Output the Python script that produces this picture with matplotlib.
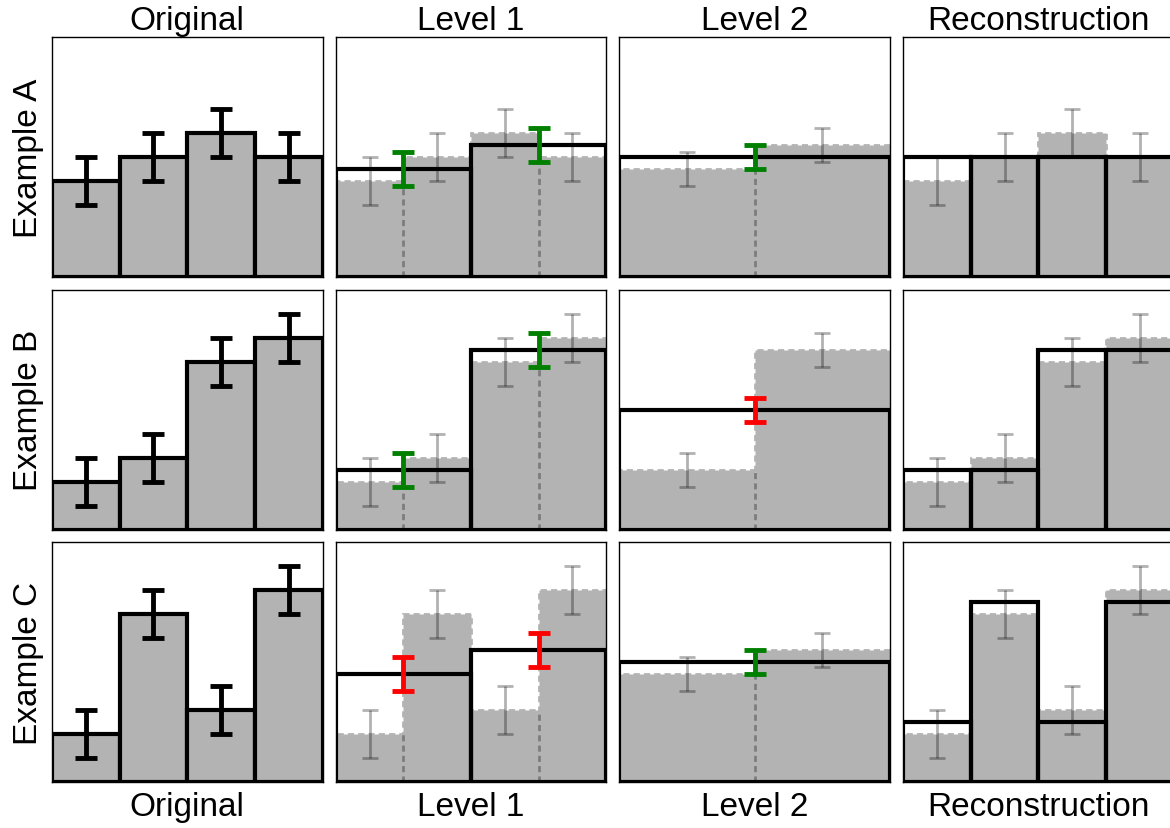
import matplotlib
matplotlib.use("Agg")
from matplotlib import pyplot as plt

plt.rcParams['font.family'] = ['Liberation Sans', 'DejaVu Sans']

# row / column names
examples = ["Example A", "Example B", "Example C"]
columns = ["Original", "Level 1", "Level 2", "Reconstruction"]

# values
original = [[4, 5, 6, 5], [2, 3, 7, 8], [2, 7, 3, 8]]
level1 = [[4.5, 5.5], [2.5, 7.5], [4.5, 5.5]]
level2 = [5, 5, 5]
recon = [[5, 5, 5, 5], [2.5, 2.5, 7.5, 7.5], [2.5, 7.5, 2.5, 7.5]]

err_orig = 1.0
err_l1 = 0.71
err_l2 = 0.5

l1_colors = [["green", "green"], ["green", "green"], ["red", "red"]]
l2_colors = ["green", "red", "green"]

x4 = [0.5, 1.5, 2.5, 3.5]
x2 = [1, 3]
x1 = [2]

FADE = (0, 0, 0, 0.3)
DASH = (0, (2.2, 1.5))


def faded(ax, x, vals, width, err):
    # opaque grey bars, the shared edges drawn a bit darker
    ax.bar(x, vals, width=width, color='#b3b3b3', edgecolor='#b3b3b3',
           linestyle=DASH, linewidth=2, zorder=1)
    bx = [x[i] + width / 2 for i in range(len(x) - 1)]
    bh = [min(vals[i], vals[i + 1]) for i in range(len(x) - 1)]
    ax.vlines(bx, 0, bh, colors='#7d7d7d', linestyles=DASH, linewidth=2, zorder=1.5)
    ax.errorbar(x, vals, yerr=err, fmt='none', ecolor=FADE, elinewidth=2,
                capsize=6, capthick=2, zorder=2)


def outline(ax, x, vals, width):
    ax.bar(x, vals, width=width, color='none', edgecolor='k', linewidth=3, zorder=3)


def signif(ax, x, vals, err, colors):
    for xi, v, c in zip(x, vals, colors):
        ax.errorbar([xi], [v], yerr=err, fmt='none', ecolor=c, elinewidth=3.5,
                    capsize=8, capthick=3.5, zorder=4)


fig = plt.figure(figsize=(11.7, 8.29), dpi=100)
W, H = 1170.0, 829.0
lefts = [52, 335.7, 619.4, 903.1]
tops = [38, 290.7, 543.3]
pw, ph = 270.5, 240

for r in range(3):
    for c in range(4):
        ax = fig.add_axes([lefts[c] / W, 1 - (tops[r] + ph) / H, pw / W, ph / H])
        if c == 0:
            ax.bar(x4, original[r], width=1, color='#b3b3b3', edgecolor='k',
                   linewidth=3, zorder=1)
            ax.errorbar(x4, original[r], yerr=err_orig, fmt='none', ecolor='k',
                        elinewidth=3.5, capsize=8, capthick=3.5, zorder=4)
        elif c == 1:
            faded(ax, x4, original[r], 1, err_orig)
            outline(ax, x2, level1[r], 2)
            signif(ax, x2, level1[r], err_l1, l1_colors[r])
        elif c == 2:
            faded(ax, x2, level1[r], 2, err_l1)
            outline(ax, x1, [level2[r]], 4)
            signif(ax, x1, [level2[r]], err_l2, [l2_colors[r]])
        else:
            faded(ax, x4, original[r], 1, err_orig)
            outline(ax, x4, recon[r], 1)

        ax.set_xlim(0, 4)
        ax.set_ylim(0, 10)
        ax.set_xticks([])
        ax.set_yticks([])
        for s in ax.spines.values():
            s.set_linewidth(1)
        if r == 0:
            ax.set_title(columns[c], fontsize=24, pad=6)
        if r == 2:
            ax.set_xlabel(columns[c], fontsize=24, labelpad=6)
        if c == 0:
            ax.set_ylabel(examples[r], fontsize=24, labelpad=6)

fig.savefig("out.png", dpi=100)
